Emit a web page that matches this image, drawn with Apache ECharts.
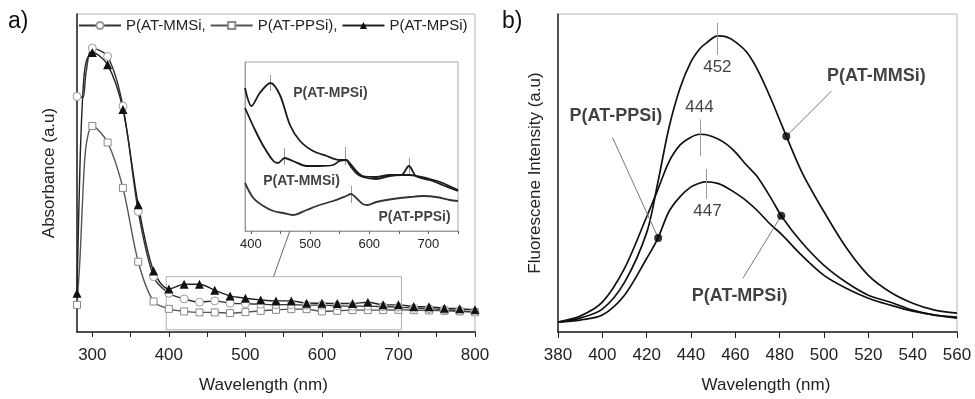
<!DOCTYPE html>
<html>
<head>
<meta charset="utf-8">
<script src="https://cdn.jsdelivr.net/npm/echarts@6/dist/echarts.min.js"></script>
<style>
  html, body { margin: 0; padding: 0; background: #fff; }
  #chart { width: 975px; height: 399px; }
</style>
</head>
<body>
<div id="chart"></div>
<script>
// panel a) absorbance spectra (arbitrary units)
const absWavelength = [280, 284, 288, 292, 300, 320, 340, 360, 380, 400, 420, 440, 460, 480, 500,
  520, 540, 560, 580, 600, 620, 640, 660, 680, 700, 720, 740, 760, 780, 800];
const absMMSi = [237, 237, 236, 262, 285.7, 277.3, 227.3, 121.3, 55.7, 39, 33.3, 30, 31.3, 29, 28.5,
  28, 27.5, 27.5, 27, 27, 26.5, 26, 26, 25.5, 25, 24, 23.5, 22.5, 21.5, 20];
const absPPSi = [27.3, 75, 145, 188, 207.3, 190.7, 145, 70.7, 30.7, 23.3, 20.7, 19.7, 19.7, 19, 20,
  21.3, 22.3, 23, 23, 20.7, 21.3, 22, 22, 22, 22.3, 22, 21.7, 21.3, 20.7, 20];
const absMPSi = [39, 171, 245, 272, 281.3, 269, 224, 128, 61.3, 43.3, 48, 48, 42, 36.3, 34,
  32.3, 31.3, 31.3, 29, 29, 28.7, 28.7, 30, 27.3, 27.3, 25.7, 25.3, 24, 23.3, 22.3];
const legendLabels = ['P(AT-MMSi,', 'P(AT-PPSi),', 'P(AT-MPSi)'];
const zoomBox = [396.6, 2.3, 704, 55.7];        // x1, y1, x2, y2
const zoomLink = [536.7, 55.7, 465.8, 0];       // main point -> inset point

// inset (zoom of 390-750 nm)
const insetMPSiX = [390, 401, 415, 433, 449, 466, 483, 505, 528, 550, 561, 567, 578, 589, 612, 634, 654, 667, 679, 702, 724, 750];
const insetMPSiY = [143, 125, 138, 148, 136, 106, 90, 80, 75, 71, 71, 68, 60, 55, 54, 56, 56, 65, 55, 51, 46, 40];
const insetMMSiX = [390, 407, 421, 438, 446, 457, 471, 494, 516, 539, 550, 561, 567, 578, 589, 612, 634, 654, 669, 679, 702, 724, 750];
const insetMMSiY = [123, 101, 85, 70, 68, 73, 70, 65, 65, 66, 70, 71, 66, 58, 54, 52, 55, 56, 56, 55, 52, 48, 41];
const insetPPSiX = [390, 404, 421, 438, 454, 471, 494, 516, 539, 561, 569, 578, 589, 597, 612, 640, 669, 691, 713, 736, 750];
const insetPPSiY = [48, 33, 25, 20, 18, 16, 21, 26, 30, 35, 37, 33, 27, 26, 29, 32, 34, 35, 34, 31, 30];
const insetPeakTicks = [[433, 140, 156], [457, 66, 83], [560, 66, 84], [569, 28, 45], [667, 56, 73]];
const insetNames = [['P(AT-MPSi)', 534.4, 137.7], ['P(AT-MMSi)', 485.5, 49.5], ['P(AT-PPSi)', 676.6, 14]];

// panel b) fluorescence spectra
const flWavelength = [380, 390, 400, 410, 420, 425, 430, 435, 440, 444, 447, 452, 456, 460, 465, 470, 476, 481,
  490, 500, 510, 520, 530, 540, 550, 560];
const flMMSi = [10, 14, 23, 50, 100, 150, 205, 245, 272, 285, 291, 298, 297, 292, 282, 264, 235, 208,
  161, 121, 85, 57, 40, 29, 22, 19];
const flMPSi = [10, 16, 30, 64, 116, 143, 171, 188, 196, 199, 198.5, 194.5, 189, 181, 168, 156, 135, 116,
  90, 67, 50, 37, 30, 22, 17, 15];
const flPPSi = [10, 12, 17, 37, 74, 94, 121, 136, 146, 150, 151, 149.5, 145.5, 140, 132, 122, 108, 98,
  77, 57, 44, 34, 27, 21, 17, 14];
const flPeakTicks = [[452, 279, 311], [444, 177, 214], [447, 134, 164]];
const flPeakLabels = [['452', 451.9, 266], ['444', 443.8, 226], ['447', 447.4, 121]];
const flNames = [['P(AT-PPSi)', 406.1, 217.3], ['P(AT-MMSi)', 523.6, 258], ['P(AT-MPSi)', 461.9, 36]];
const flPointers = [[404.6, 195.7, 425.2, 94.7], [503.3, 242.3, 483, 197], [463.4, 54, 480.7, 117]];

const FONT = '"Liberation Sans", Arial, sans-serif';
const chart = echarts.init(document.getElementById('chart'));

const pairs = (xs, ys) => xs.map((x, i) => [x, ys[i]]);
// markers only at every 20 nm
const marked = (xs, ys) => xs.map((x, i) => x % 20 ? { value: [x, ys[i]], symbol: 'none' } : [x, ys[i]]);
const vTicks = ticks => ticks.map(t => [{ coord: [t[0], t[1]] }, { coord: [t[0], t[2]] }]);

function textSeries(xi, items, style) {
  return {
    type: 'scatter', xAxisIndex: xi, yAxisIndex: xi, symbolSize: 0, silent: true, z: 6,
    data: items.map(t => ({ name: t[0], value: [t[1], t[2]] })),
    label: Object.assign({ show: true, position: 'inside', formatter: '{b}', color: '#111', fontFamily: FONT }, style)
  };
}

const thinGray = { color: '#999', width: 1, type: 'solid' };

const option = {
  animation: false,
  textStyle: { fontFamily: FONT },
  graphic: [
    { type: 'text', left: 8, top: 10, style: { text: 'a)', fontSize: 23, fill: '#111', fontFamily: FONT } },
    { type: 'text', left: 502, top: 10, style: { text: 'b)', fontSize: 23, fill: '#111', fontFamily: FONT } }
  ],
  legend: {
    left: 78, top: 18, padding: 0, itemWidth: 42, itemHeight: 9, itemGap: 4,
    data: ['MMSi', 'PPSi', 'MPSi'],
    formatter: name => legendLabels[['MMSi', 'PPSi', 'MPSi'].indexOf(name)],
    textStyle: { fontSize: 15, color: '#222' }
  },
  grid: [
    { left: 77, top: 14, width: 398, height: 320, show: true, borderColor: '#b5b5b5', borderWidth: 1 },
    { left: 558, top: 14, width: 399, height: 320, show: true, borderColor: '#b5b5b5', borderWidth: 1 },
    { left: 245, top: 62, width: 213, height: 169, show: true, borderColor: '#a8a8a8', borderWidth: 1, backgroundColor: '#fff', z: 3 }
  ],
  xAxis: [
    {
      gridIndex: 0, type: 'value', min: 280, max: 800,
      axisLine: { lineStyle: { color: '#222', width: 1.5 } },
      axisTick: { length: 5, lineStyle: { color: '#222' }, customValues: [300, 350, 400, 450, 500, 550, 600, 650, 700, 750, 800] },
      axisLabel: { fontSize: 17, color: '#222', margin: 15, customValues: [300, 400, 500, 600, 700, 800] },
      splitLine: { show: false },
      name: 'Wavelength (nm)', nameLocation: 'middle', nameGap: 45,
      nameTextStyle: { fontSize: 17, color: '#222', padding: [0, 25, 0, 0] }
    },
    {
      gridIndex: 1, type: 'value', min: 380, max: 560, interval: 20,
      axisLine: { lineStyle: { color: '#222', width: 1.5 } },
      axisTick: { length: 6, lineStyle: { color: '#222' } },
      axisLabel: { fontSize: 17, color: '#222', margin: 15 },
      splitLine: { show: false },
      name: 'Wavelength (nm)', nameLocation: 'middle', nameGap: 45,
      nameTextStyle: { fontSize: 17, color: '#222', padding: [0, 0, 0, 17] }
    },
    {
      gridIndex: 2, type: 'value', min: 390, max: 750, z: 4,
      axisLine: { lineStyle: { color: '#999', width: 1 } },
      axisTick: { length: 3, lineStyle: { color: '#666' }, customValues: [400, 450, 500, 550, 600, 650, 700, 750] },
      axisLabel: { fontSize: 13, color: '#222', margin: 7, customValues: [400, 500, 600, 700] },
      splitLine: { show: false }
    }
  ],
  yAxis: [
    {
      gridIndex: 0, type: 'value', min: 0, max: 320,
      axisLine: { show: true, lineStyle: { color: '#222', width: 1.5 } },
      axisTick: { show: false }, axisLabel: { show: false }, splitLine: { show: false },
      name: 'Absorbance (a.u)', nameLocation: 'middle', nameGap: 19,
      nameTextStyle: { fontSize: 17, color: '#222' }
    },
    {
      gridIndex: 1, type: 'value', min: 0, max: 320,
      axisLine: { show: true, lineStyle: { color: '#222', width: 1.5 } },
      axisTick: { show: false }, axisLabel: { show: false }, splitLine: { show: false },
      name: 'Fluorescene Intensity (a.u)', nameLocation: 'middle', nameGap: 14,
      nameTextStyle: { fontSize: 17, color: '#222' }
    },
    {
      gridIndex: 2, type: 'value', min: 0, max: 169, z: 4,
      axisLine: { show: true, lineStyle: { color: '#999', width: 1 } },
      axisTick: { show: false }, axisLabel: { show: false }, splitLine: { show: false }
    }
  ],
  series: [
    // panel a
    {
      name: 'PPSi', type: 'line', xAxisIndex: 0, yAxisIndex: 0, smooth: 0.3,
      data: marked(absWavelength, absPPSi),
      symbol: 'rect', symbolSize: 7,
      lineStyle: { color: '#555', width: 1.4 },
      itemStyle: { color: '#fff', borderColor: '#8a8a8a', borderWidth: 1 }
    },
    {
      name: 'MMSi', type: 'line', xAxisIndex: 0, yAxisIndex: 0, smooth: 0.3,
      data: marked(absWavelength, absMMSi),
      symbol: 'circle', symbolSize: 8,
      lineStyle: { color: '#333', width: 1.4 },
      itemStyle: { color: '#fff', borderColor: '#999', borderWidth: 1 },
      markArea: {
        silent: true,
        itemStyle: { color: 'rgba(0,0,0,0)', borderColor: '#b0b0b0', borderWidth: 1 },
        data: [[{ coord: [zoomBox[0], zoomBox[1]] }, { coord: [zoomBox[2], zoomBox[3]] }]]
      }
    },
    {
      name: 'MPSi', type: 'line', xAxisIndex: 0, yAxisIndex: 0, smooth: 0.3,
      data: marked(absWavelength, absMPSi),
      symbol: 'triangle', symbolSize: 9,
      lineStyle: { color: '#222', width: 1.4 },
      itemStyle: { color: '#111' }
    },
    // inset
    {
      type: 'line', xAxisIndex: 2, yAxisIndex: 2, smooth: 0.3, showSymbol: false, z: 5,
      data: pairs(insetMPSiX, insetMPSiY), lineStyle: { color: '#1a1a1a', width: 1.8 },
      markLine: { silent: true, symbol: ['none', 'none'], label: { show: false }, lineStyle: thinGray, data: vTicks(insetPeakTicks) }
    },
    {
      type: 'line', xAxisIndex: 2, yAxisIndex: 2, smooth: 0.3, showSymbol: false, z: 5,
      data: pairs(insetMMSiX, insetMMSiY), lineStyle: { color: '#1a1a1a', width: 1.8 }
    },
    {
      type: 'line', xAxisIndex: 2, yAxisIndex: 2, smooth: 0.3, showSymbol: false, z: 5,
      data: pairs(insetPPSiX, insetPPSiY), lineStyle: { color: '#333', width: 1.8 }
    },
    textSeries(2, insetNames, { fontSize: 14, fontWeight: 'bold' }),
    // panel b
    {
      type: 'line', xAxisIndex: 1, yAxisIndex: 1, smooth: 0.3, showSymbol: false,
      data: pairs(flWavelength, flMMSi), lineStyle: { color: '#111', width: 1.7 },
      markLine: { silent: true, symbol: ['none', 'none'], label: { show: false }, lineStyle: thinGray, data: vTicks(flPeakTicks) }
    },
    {
      type: 'line', xAxisIndex: 1, yAxisIndex: 1, smooth: 0.3, showSymbol: false,
      data: pairs(flWavelength, flMPSi), lineStyle: { color: '#111', width: 1.7 },
      markLine: {
        silent: true, symbol: ['none', 'none'], label: { show: false }, lineStyle: { color: '#777', width: 1, type: 'solid' },
        data: flPointers.map(p => [{ coord: [p[0], p[1]] }, { coord: [p[2], p[3]] }])
      }
    },
    {
      type: 'line', xAxisIndex: 1, yAxisIndex: 1, smooth: 0.3, showSymbol: false,
      data: pairs(flWavelength, flPPSi), lineStyle: { color: '#111', width: 1.7 }
    },
    {
      type: 'scatter', xAxisIndex: 1, yAxisIndex: 1, symbolSize: 8, silent: true, z: 5,
      itemStyle: { color: '#000' },
      data: flPointers.map(p => [p[2], p[3]])
    },
    textSeries(1, flPeakLabels, { fontSize: 17 }),
    textSeries(1, flNames, { fontSize: 18, fontWeight: 'bold' })
  ]
};

chart.setOption(option);

// connector from the zoom box to the inset frame
const a = chart.convertToPixel({ xAxisIndex: 0, yAxisIndex: 0 }, [zoomLink[0], zoomLink[1]]);
const b = chart.convertToPixel({ xAxisIndex: 2, yAxisIndex: 2 }, [zoomLink[2], zoomLink[3]]);
chart.setOption({
  graphic: option.graphic.concat([{
    type: 'line', silent: true, z: 10,
    shape: { x1: a[0], y1: a[1], x2: b[0], y2: b[1] },
    style: { stroke: '#666', lineWidth: 1 }
  }])
});
</script>
</body>
</html>
